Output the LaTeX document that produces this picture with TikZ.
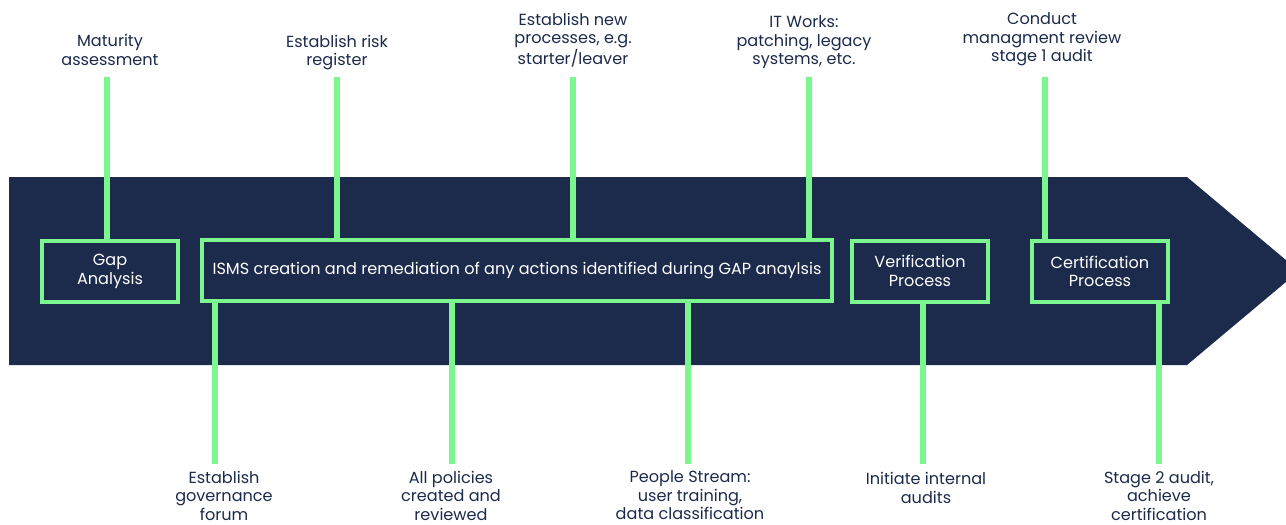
\documentclass[tikz,border=0pt]{standalone}
\usepackage{fontspec}
\setmainfont{Poppins}
\usepackage{xcolor}
\usetikzlibrary{positioning,calc}
\definecolor{navy}{HTML}{1C2A4B}
\definecolor{mint}{HTML}{7CF68E}

\begin{document}
\begin{tikzpicture}[x=1pt, y=-1pt,
    stage/.style={rectangle, draw=mint, line width=4pt, fill=navy, text=white, minimum width=136pt, minimum height=61pt, align=center, inner sep=0pt, font=\fontsize{16.1}{18.5}\selectfont},
    note/.style={align=center, text=navy, inner sep=0pt, font=\fontsize{16.1}{18.5}\selectfont},
    stem/.style={draw=mint, line width=6pt}
]
    \useasboundingbox (0,0) rectangle (1286,525);

    % Timeline arrow
    \fill[navy] (9,177) -- (1187,177) -- (1299,271) -- (1187,365) -- (9,365) -- cycle;

    % Stages
    \node[stage] (gap) at (110,271.5) {Gap\\Analysis};
    \node[stage, minimum width=630pt] (isms) at (517,270.5) {ISMS creation and remediation of any actions identified during GAP anaylsis};
    \node[stage] (verif) at (920,271) {Verification\\Process};
    \node[stage] (cert) at (1100,271.5) {Certification\\Process};

    % Activities above
    \node[note] (maturity) at (110,50) {Maturity\\assessment};
    \node[note] (risk) at (337,52.5) {Establish risk\\register};
    \node[note] (procs) at (573,40) {Establish new\\processes, e.g.\\starter/leaver};
    \node[note] (itworks) at (804,42.5) {IT Works:\\patching, legacy\\systems, etc.};
    \node[note] (review) at (1042,39.5) {Conduct\\managment review\\stage 1 audit};

    % Activities below
    \node[note] (forum) at (224,495.5) {Establish\\governance\\forum};
    \node[note] (policies) at (451,495.5) {All policies\\created and\\reviewed};
    \node[note] (people) at (690,495.5) {People Stream:\\user training,\\data classification};
    \node[note] (audits) at (926,488) {Initiate internal\\audits};
    \node[note] (stage2) at (1159,495.5) {Stage 2 audit,\\achieve\\certification};

    % Stem ends
    \coordinate (t1) at (107,77);
    \coordinate (t2) at (337,77);
    \coordinate (t3) at (573,77);
    \coordinate (t4) at (809,77);
    \coordinate (t5) at (1045,77);
    \coordinate (b1) at (215,464);
    \coordinate (b2) at (452,464);
    \coordinate (b3) at (688,464);
    \coordinate (b4) at (923,464);
    \coordinate (b5) at (1159,464);

    % Stems
    \draw[stem] (t1) -- (t1 |- gap.north);
    \draw[stem] (t2) -- (t2 |- isms.north);
    \draw[stem] (t3) -- (t3 |- isms.north);
    \draw[stem] (t4) -- (t4 |- isms.north);
    \draw[stem] (t5) -- (t5 |- cert.north);
    \draw[stem] (b1) -- (b1 |- isms.south);
    \draw[stem] (b2) -- (b2 |- isms.south);
    \draw[stem] (b3) -- (b3 |- isms.south);
    \draw[stem] (b4) -- (b4 |- verif.south);
    \draw[stem] (b5) -- (b5 |- cert.south);
\end{tikzpicture}
\end{document}
